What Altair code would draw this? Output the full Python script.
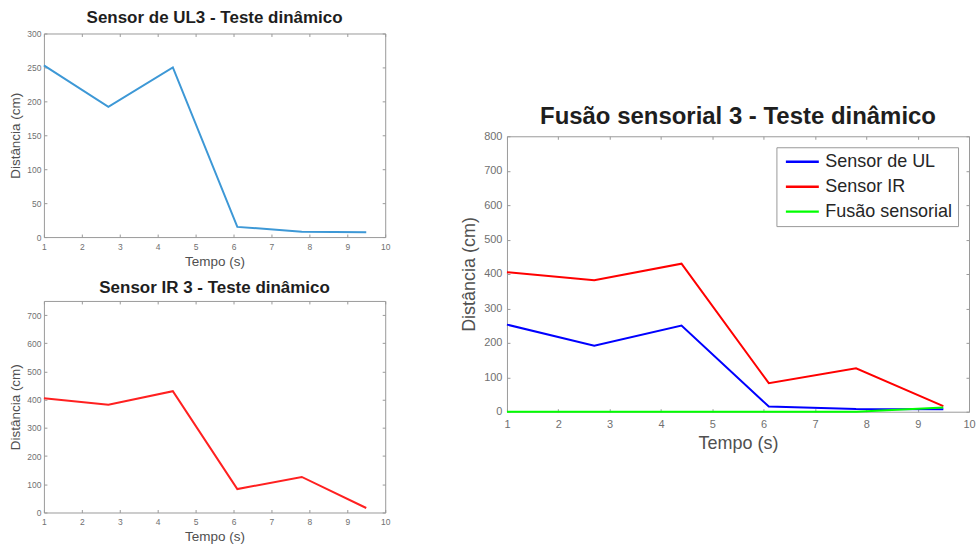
import altair as alt
import pandas as pd

# ---------------- data ----------------
tempo = [1.0, 2.7, 4.4, 6.1, 7.8, 9.5]
sensor_ul = [253, 192, 250, 15, 8, 7]
sensor_ir = [405, 382, 430, 83, 126, 16]
fusao = [0, 0, 0, 0, 0, 12]

series_names = ["Sensor de UL", "Sensor IR", "Fusão sensorial"]
series_colors = ["#0000ff", "#ff0000", "#00ff00"]

x_ticks = [1, 2, 3, 4, 5, 6, 7, 8, 9, 10]
y_ticks_ul = [0, 50, 100, 150, 200, 250, 300]
y_ticks_ir = [0, 100, 200, 300, 400, 500, 600, 700]
y_ticks_fus = [0, 100, 200, 300, 400, 500, 600, 700, 800]

title_ul = "Sensor de UL3 - Teste dinâmico"
title_ir = "Sensor IR 3 - Teste dinâmico"
title_fus = "Fusão sensorial 3 - Teste dinâmico"
x_title = "Tempo (s)"
y_title = "Distância (cm)"

FONT = "Liberation Sans"
FRAME = "#9a9a9a"
LABEL = "#707070"
ATITLE = "#505050"

df_ul = pd.DataFrame({"t": tempo, "v": sensor_ul})
df_ir = pd.DataFrame({"t": tempo, "v": sensor_ir})
rows = []
for name, vals in zip(series_names, [sensor_ul, sensor_ir, fusao]):
    for t, v in zip(tempo, vals):
        rows.append({"t": t, "v": v, "serie": name})
df_fus = pd.DataFrame(rows)


def main_axis(values, lsize, tsize, lpad, tpad, title, orient):
    return alt.Axis(values=values, orient=orient, grid=False, domain=False, ticks=True,
                    tickSize=3, offset=-3, tickColor=FRAME, tickWidth=1,
                    labelFont=FONT, labelFontSize=lsize, labelColor=LABEL,
                    labelPadding=lpad, labelFlush=False, labelOverlap=False,
                    format="d", title=title, titleFont=FONT,
                    titleFontSize=tsize, titleFontWeight="normal",
                    titleColor=ATITLE, titlePadding=tpad)


def mirror_axis(values, orient):
    return alt.Axis(values=values, orient=orient, grid=False, domain=False,
                    ticks=True, tickSize=3, offset=-3, tickColor=FRAME,
                    labels=False, title=None)


def panel(df, ydom, yvals, w, h, title, tsize, lsize, atsize, xlp, xtp, ylp, ytp,
          toff, line):
    xs = alt.Scale(domain=[1, 10], nice=False, zero=False)
    ys = alt.Scale(domain=ydom, nice=False)
    main = line.encode(
        x=alt.X("t:Q", scale=xs,
                axis=main_axis(x_ticks, lsize, atsize, xlp, xtp, x_title, "bottom")),
        y=alt.Y("v:Q", scale=ys,
                axis=main_axis(yvals, lsize, atsize, ylp, ytp, y_title, "left")),
    )
    mirror = alt.Chart(df).mark_point(opacity=0).encode(
        x=alt.X("t:Q", scale=xs, axis=mirror_axis(x_ticks, "top")),
        y=alt.Y("v:Q", scale=ys, axis=mirror_axis(yvals, "right")),
    )
    return alt.layer(main, mirror).resolve_axis(
        x="independent", y="independent"
    ).properties(
        width=w, height=h,
        title=alt.TitleParams(title, font=FONT, fontSize=tsize, fontWeight="bold",
                              color="#1e1e1e", offset=toff),
    )


top = panel(df_ul, [0, 300], y_ticks_ul, 342, 204, title_ul, 17, 8.5, 13.5,
            5, 4, 3, 4, 3,
            alt.Chart(df_ul).mark_line(color="#3d98d6", strokeWidth=2))
bottom = panel(df_ir, [0, 750], y_ticks_ir, 342, 212, title_ir, 17, 8.5, 13.5,
               5, 4, 3, 4, 3,
               alt.Chart(df_ir).mark_line(color="#ff2020", strokeWidth=2))

legend = alt.Legend(title=None, orient="top-right", offset=11, padding=5,
                    strokeColor="#9a9a9a", fillColor="white", cornerRadius=0,
                    symbolType="M-0.625,0H3.5", symbolSize=256,
                    symbolStrokeWidth=2.5, labelFont=FONT, labelFontSize=18,
                    labelColor="#262626", labelOffset=25, rowPadding=6,
                    labelLimit=300)

right_line = alt.Chart(df_fus).mark_line(strokeWidth=2).encode(
    color=alt.Color("serie:N", scale=alt.Scale(domain=series_names, range=series_colors),
                    legend=legend, sort=series_names)
)
right = panel(df_fus, [0, 800], y_ticks_fus, 463, 276, title_fus, 24, 11, 18,
              7, 5, 5, 5, 1, right_line)

# invisible spacer that sets the vertical position of the right panel
spacer = alt.Chart(df_fus).mark_point(opacity=0).encode(
    x=alt.X("t:Q", axis=None), y=alt.Y("v:Q", axis=None)
).properties(width=463, height=60, view=alt.ViewBackground(stroke="transparent"))

left = alt.vconcat(top, bottom, spacing=64, bounds="flush")
right_col = alt.vconcat(spacer, right, spacing=43, bounds="flush").resolve_scale(
    color="independent"
).resolve_legend(color="independent")
chart = alt.hconcat(left, right_col, spacing=69).resolve_scale(
    color="independent"
).resolve_legend(color="independent").configure_view(
    stroke=FRAME, strokeWidth=1
).properties(background="white", padding={"left": 8, "top": 7, "right": 0, "bottom": 0})

chart.save("out.html", embed_options={"renderer": "svg", "actions": False})
